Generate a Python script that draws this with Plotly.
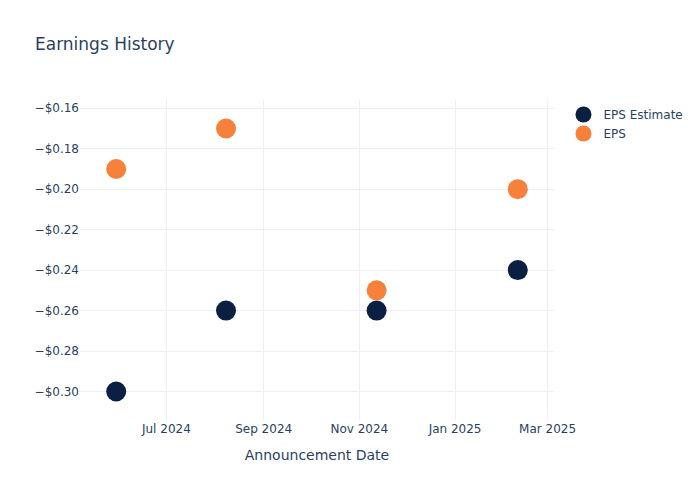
import plotly.graph_objects as go

# announcement dates and EPS values
dates = ["2024-05-30", "2024-08-08", "2024-11-12", "2025-02-10"]
eps_estimate = [-0.30, -0.26, -0.26, -0.24]
eps_actual = [-0.19, -0.17, -0.25, -0.20]

NAVY = "#0b1f42"
ORANGE = "#f7813a"

fig = go.Figure()
fig.add_trace(go.Scatter(
    x=dates, y=eps_estimate, mode="markers", name="EPS Estimate",
    marker=dict(color=NAVY, size=20),
))
fig.add_trace(go.Scatter(
    x=dates, y=eps_actual, mode="markers", name="EPS",
    marker=dict(color=ORANGE, size=20),
))

fig.update_layout(
    template="plotly_white",
    width=700,
    height=500,
    font=dict(family="DejaVu Sans"),
    title=dict(text="Earnings History"),
    xaxis=dict(title=dict(text="Announcement Date"), dtick="M2", tickformat="%b %Y"),
    yaxis=dict(tickformat="$.2f"),
)

# drop the page margin so the figure sits at the window's top-left corner
fig.write_html(
    "out.html",
    config={"displayModeBar": False},
    post_script="document.body.style.margin='0';",
)
